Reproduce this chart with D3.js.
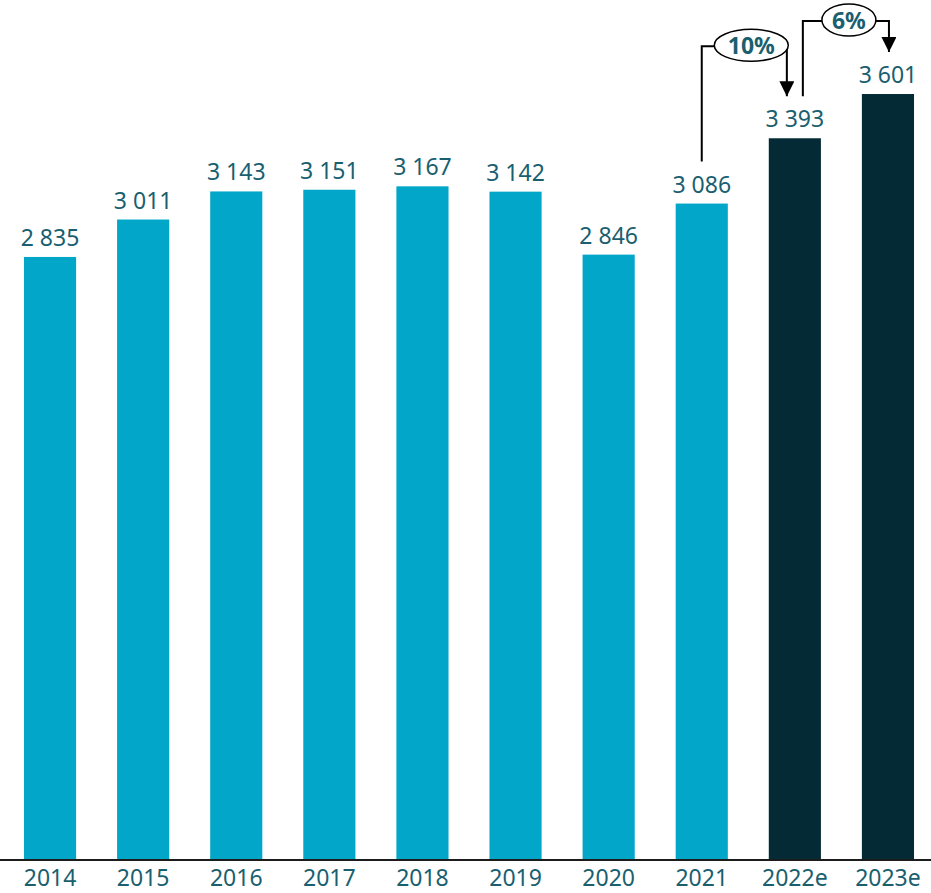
<!DOCTYPE html>
<html>
<head>
<meta charset="utf-8">
<script src="https://cdn.jsdelivr.net/npm/d3@7"></script>
<style>
  html, body { margin: 0; padding: 0; background: #fff; }
  svg { display: block; }
  text { font-family: "Noto Sans", "Open Sans", sans-serif; }
</style>
</head>
<body>
<svg id="chart" width="931" height="893"></svg>
<script>
// Yearly totals, with 2022 and 2023 as estimates
const years = ["2014", "2015", "2016", "2017", "2018", "2019", "2020", "2021", "2022e", "2023e"];
const values = [2835, 3011, 3143, 3151, 3167, 3142, 2846, 3086, 3393, 3601];
const estimated = [false, false, false, false, false, false, false, false, true, true];
// Year-on-year growth callouts: [from index, to index]
const growthPairs = [[7, 8], [8, 9]];

const W = 931, H = 893;
const baseY = 860;
const colorActual = "#01a6c9";
const colorEstimate = "#042a35";
const labelColor = "#1a5f70";

const svg = d3.select("#chart");

const x = d3.scaleBand()
  .domain(years)
  .range([3.5, 934.5])
  .paddingInner(0.44)
  .paddingOuter(0.22);

const y = d3.scaleLinear()
  .domain([0, 4043])
  .range([baseY, 0]);

const locale = d3.formatLocale({ decimal: ",", thousands: " ", grouping: [3], currency: ["", ""] });
const fmt = locale.format(",d");
const pct = d3.format(".0%");

const data = years.map((yr, i) => ({ year: yr, value: values[i], est: estimated[i] }));

// bars
svg.append("g")
  .selectAll("rect")
  .data(data)
  .join("rect")
  .attr("x", d => x(d.year))
  .attr("y", d => y(d.value))
  .attr("width", x.bandwidth())
  .attr("height", d => baseY - y(d.value))
  .attr("fill", d => d.est ? colorEstimate : colorActual);

// value labels
svg.append("g")
  .selectAll("text")
  .data(data)
  .join("text")
  .attr("x", d => x(d.year) + x.bandwidth() / 2)
  .attr("y", d => y(d.value) - 11)
  .attr("text-anchor", "middle")
  .attr("font-size", 23)
  .attr("fill", labelColor)
  .text(d => fmt(d.value));

// x axis
const axis = svg.append("g")
  .attr("transform", `translate(0,${baseY})`)
  .call(d3.axisBottom(x).tickSize(0).tickPadding(10));
axis.select(".domain").remove();
axis.selectAll("text")
  .attr("font-size", 23)
  .attr("font-family", "\"Noto Sans\", sans-serif")
  .attr("fill", labelColor);
svg.append("line")
  .attr("x1", 0).attr("x2", W)
  .attr("y1", baseY).attr("y2", baseY)
  .attr("stroke", "#1c1c1c")
  .attr("stroke-width", 2);

// growth callouts
const defs = svg.append("defs");
defs.append("marker")
  .attr("id", "arrow")
  .attr("viewBox", "0 0 10 10")
  .attr("refX", 10).attr("refY", 5)
  .attr("markerWidth", 15).attr("markerHeight", 15)
  .attr("markerUnits", "userSpaceOnUse")
  .attr("orient", "auto")
  .append("path")
  .attr("d", "M0,0 L10,5 L0,10 Z")
  .attr("fill", "#000");

const callouts = [
  { pair: growthPairs[0], dx0: 0, dx1: -8, rise: 92, rx: 37, ry: 16, shift: 7 },
  { pair: growthPairs[1], dx0: 8, dx1: 1, rise: 73, rx: 27, ry: 16, shift: 3 }
];
const cg = svg.append("g");
callouts.forEach(c => {
  const [i0, i1] = c.pair;
  const cx0 = x(years[i0]) + x.bandwidth() / 2 + c.dx0;
  const cx1 = x(years[i1]) + x.bandwidth() / 2 + c.dx1;
  const yStart = y(values[i0]) - 42;
  const yEnd = y(values[i1]) - 42;
  const yLevel = y(values[i1]) - c.rise;
  const ex = (cx0 + cx1) / 2 + c.shift;

  cg.append("path")
    .attr("d", `M${cx0},${yStart} V${yLevel} H${cx1} V${yEnd}`)
    .attr("fill", "none")
    .attr("stroke", "#000")
    .attr("stroke-width", 2)
    .attr("marker-end", "url(#arrow)");
  cg.append("ellipse")
    .attr("cx", ex).attr("cy", yLevel - 1)
    .attr("rx", c.rx).attr("ry", c.ry)
    .attr("fill", "#fff")
    .attr("stroke", "#000")
    .attr("stroke-width", 1.5);
  cg.append("text")
    .attr("x", ex).attr("y", yLevel + 7.5)
    .attr("text-anchor", "middle")
    .attr("font-size", 23)
    .attr("font-weight", "bold")
    .attr("fill", labelColor)
    .text(pct(values[i1] / values[i0] - 1));
});
</script>
</body>
</html>
